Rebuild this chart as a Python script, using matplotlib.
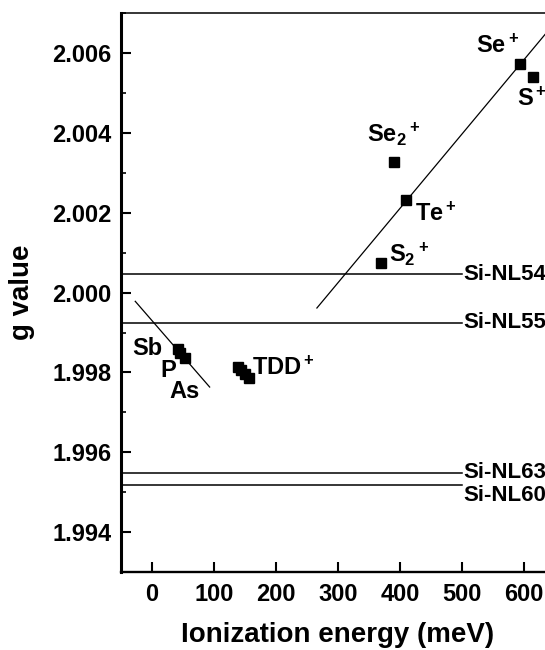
"""g value versus ionization energy for shallow donors and NL centres in Si."""

import matplotlib
matplotlib.use("Agg")
import matplotlib.pyplot as plt
import numpy as np
from matplotlib.ticker import FixedLocator, FormatStrFormatter, MultipleLocator

plt.rcParams["font.family"] = ["Liberation Sans", "DejaVu Sans"]
plt.rcParams["font.weight"] = "bold"
plt.rcParams["mathtext.fontset"] = "custom"
plt.rcParams["mathtext.rm"] = "Liberation Sans:bold"
plt.rcParams["mathtext.it"] = "Liberation Sans:bold"
plt.rcParams["mathtext.bf"] = "Liberation Sans:bold"

# chalcogen double donors (meV, g)
chalc_names = ["Se$^+$", "S$^+$", "Se$_2{}^+$", "Te$^+$", "S$_2{}^+$"]
chalc_energy = [594, 615, 390, 410, 370]
chalc_g = [2.00572, 2.00541, 2.00327, 2.00231, 2.00074]

# group V donors
donor_names = ["Sb", "P", "As"]
donor_energy = [42.7, 45.6, 53.7]
donor_g = [1.99858, 1.99850, 1.99837]

# thermal double donors
tdd_energy = [138, 144, 150, 156]
tdd_g = [1.99813, 1.99805, 1.99796, 1.99786]

# trend lines: x range and (slope, intercept) in g per meV
chalc_fit_x = [266, 700]
chalc_fit = (1.863e-5, 1.99466)
donor_fit_x = [-27, 93]
donor_fit = (-1.79e-5, 1.99930)
tdd_fit_x = [91, 207]
tdd_fit = (-1.67e-5, 1.99045)

# NL centres (g), drawn as horizontal levels
nl_names = ["Si-NL54", "Si-NL55", "Si-NL63", "Si-NL60"]
nl_g = [2.00046, 1.99924, 1.99549, 1.99519]
nl_end = 500

fig = plt.figure(figsize=(5.45, 6.5), dpi=100)
ax = fig.add_axes([0.222, 0.12, 0.7963, 0.8595])

for g in nl_g:
    ax.plot([-50, nl_end], [g, g], color="black", lw=1.1)

for xr, (m, b) in [(chalc_fit_x, chalc_fit), (donor_fit_x, donor_fit), (tdd_fit_x, tdd_fit)]:
    xs = np.array(xr, dtype=float)
    ax.plot(xs, m * xs + b, color="black", lw=0.9)

ms = 7.8
ax.plot(chalc_energy, chalc_g, "s", color="black", ms=ms, ls="none")
ax.plot(donor_energy, donor_g, "s", color="black", ms=ms, ls="none")
ax.plot(tdd_energy, tdd_g, "s", color="black", ms=ms, ls="none")

lab = dict(fontsize=17, fontweight="bold", ha="left", va="baseline")
chalc_pos = [(523, 2.00601), (589, 2.00469), (347, 2.00377), (425, 2.00181), (383, 2.00076)]
for name, (x, y) in zip(chalc_names, chalc_pos):
    ax.text(x, y, name, **lab)

donor_pos = [(-32, 1.99843), (13, 1.99788), (28, 1.99735)]
for name, (x, y) in zip(donor_names, donor_pos):
    ax.text(x, y, name, **lab)
ax.text(161, 1.99793, "TDD$^+$", **lab)

nl_label_y = [nl_g[0], nl_g[1], nl_g[2], 1.99492]
for name, y in zip(nl_names, nl_label_y):
    ax.text(nl_end + 2, y, name, fontsize=16, fontweight="bold", ha="left", va="center")

ax.set_xlim(-50, 650)
ax.set_ylim(1.993, 2.007)
ax.xaxis.set_major_locator(FixedLocator([0, 100, 200, 300, 400, 500, 600]))
ax.yaxis.set_major_locator(MultipleLocator(0.002))
ax.yaxis.set_minor_locator(MultipleLocator(0.001))
ax.yaxis.set_major_formatter(FormatStrFormatter("%.3f"))
ax.tick_params(axis="both", which="major", direction="in", length=7, width=1.5,
               labelsize=17, pad=8)
ax.tick_params(axis="y", which="minor", direction="in", length=3.5, width=1.2)
ax.tick_params(axis="y", which="major", pad=7)
for t in ax.get_xticklabels() + ax.get_yticklabels():
    t.set_fontweight("bold")

ax.spines["left"].set_linewidth(2.2)
ax.spines["bottom"].set_linewidth(1.7)
ax.spines["top"].set_linewidth(1.1)
ax.spines["right"].set_linewidth(1.1)

ax.set_xlabel("Ionization energy (meV)", fontsize=20, fontweight="bold")
ax.set_ylabel("g value", fontsize=20, fontweight="bold")
ax.xaxis.set_label_coords(0.5, -0.089)
ax.yaxis.set_label_coords(-0.198, 0.5)

fig.savefig("out.png", dpi=100)
